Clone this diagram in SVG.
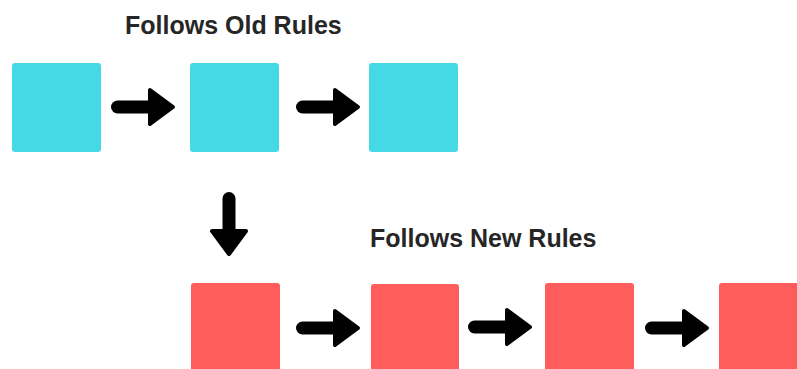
<svg xmlns="http://www.w3.org/2000/svg" width="797" height="369" viewBox="0 0 797 369">
<style>
.old{fill:#45D9E5}
.new{fill:#FF5C5C}
.t{font-family:"Liberation Sans",Arial,sans-serif;font-weight:bold;font-size:25px;fill:#262626}
.sh{stroke:#000;stroke-width:13;stroke-linecap:round;fill:none}
.hd{fill:#000;stroke:#000;stroke-width:4;stroke-linejoin:round}
</style>
<defs>
<g id="arr">
<line class="sh" x1="6.5" y1="0" x2="42" y2="0"/>
<polygon class="hd" points="39,-17 62,0 39,17"/>
</g>
</defs>
<rect width="797" height="369" fill="#fff"/>
<text class="t" x="125" y="34">Follows Old Rules</text>
<text class="t" x="370" y="247">Follows New Rules</text>
<g id="old1"><rect class="old" x="12" y="63" width="89" height="89" rx="3"/></g>
<g id="old2"><rect class="old" x="190" y="63" width="89" height="89" rx="3"/></g>
<g id="old3"><rect class="old" x="369" y="63" width="89" height="89" rx="3"/></g>
<g id="new1"><rect class="new" x="191" y="283" width="89" height="95" rx="3"/></g>
<g id="new2"><rect class="new" x="371" y="284" width="88" height="95" rx="3"/></g>
<g id="new3"><rect class="new" x="545" y="283" width="89" height="95" rx="3"/></g>
<g id="new4"><rect class="new" x="719" y="283" width="89" height="95" rx="3"/></g>
<g id="connectors">
<use href="#arr" x="111" y="107"/>
<use href="#arr" x="296" y="107"/>
<use href="#arr" transform="translate(229,192) rotate(90)"/>
<use href="#arr" x="296" y="328"/>
<use href="#arr" x="468" y="327"/>
<use href="#arr" x="645" y="328"/>
</g>
</svg>
